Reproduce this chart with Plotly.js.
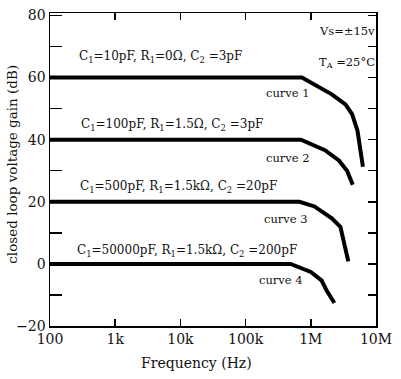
<!DOCTYPE html>
<html>
<head>
<meta charset="utf-8">
<script src="https://cdn.plot.ly/plotly-3.0.1.min.js"></script>
<style>html,body{margin:0;padding:0;background:#fff;}#chart{width:401px;height:379px;}</style>
</head>
<body>
<div id="chart"></div>
<script>
// Frequency (Hz) and closed loop gain (dB)
const freq1 = [100, 7.3e5, 2.1e6, 3.4e6, 4.3e6, 5.2e6, 6.3e6];
const gain1 = [60, 60, 54.6, 51.4, 48.2, 42.9, 31.3];
const freq2 = [100, 7.06e5, 1.65e6, 2.7e6, 3.6e6, 4.4e6];
const gain2 = [40, 40, 36.6, 33.3, 30, 25.5];
const freq3 = [100, 6.7e5, 1.14e6, 2.1e6, 2.85e6, 3.25e6, 3.76e6];
const gain3 = [20, 20, 18.5, 14.7, 11.9, 6.4, 0.8];
const freq4 = [100, 4.9e5, 1.0e6, 1.46e6, 1.75e6, 2.3e6];
const gain4 = [0, 0, -2.6, -5.3, -8.6, -12.6];

const xTickVals = [100, 1e3, 1e4, 1e5, 1e6, 1e7];
const xTickText = ['100', '1k', '10k', '100k', '1M', '10M'];
const yTickVals = [-20, 0, 20, 40, 60, 80];

const xTitle = 'Frequency (Hz)';
const yTitle = 'closed loop voltage gain (dB)';
const condLabels = [
  'C<sub>1</sub>=10pF, R<sub>1</sub>=0Ω, C<sub>2</sub> =3pF',
  'C<sub>1</sub>=100pF, R<sub>1</sub>=1.5Ω, C<sub>2</sub> =3pF',
  'C<sub>1</sub>=500pF, R<sub>1</sub>=1.5kΩ, C<sub>2</sub> =20pF',
  'C<sub>1</sub>=50000pF, R<sub>1</sub>=1.5kΩ, C<sub>2</sub> =200pF'
];
const curveLabels = ['curve 1', 'curve 2', 'curve 3', 'curve 4'];
const noteLabels = ['Vs=±15v', 'T<sub>A</sub> =25°C'];

const FONT = 'DejaVu Serif, serif';
const INK = '#111';
const lineStyle = {color: '#000', width: 4};
const series = [[freq1, gain1], [freq2, gain2], [freq3, gain3], [freq4, gain4]];
const traces = series.map(s => ({
  x: s[0], y: s[1], type: 'scatter', mode: 'lines', line: lineStyle,
  hoverinfo: 'skip', showlegend: false, cliponaxis: false
}));
// invisible trace so the right-hand y axis draws its ticks
traces.push({x: [100], y: [0], yaxis: 'y2', mode: 'markers', marker: {opacity: 0}, showlegend: false, hoverinfo: 'skip'});

// annotation positions (paper x, data y)
const condPos = [[0.34, 66.6], [0.374, 44.7], [0.393, 24.8], [0.42, 4.15]];
const curvePos = [[0.73, 55.0], [0.73, 34.1], [0.724, 14.5], [0.708, -5.2]];
const notePos = [[0.819, 75.0], [0.819, 64.7]];

const annotations = [];
condLabels.forEach((t, i) => annotations.push({
  text: t, xref: 'paper', yref: 'y', x: condPos[i][0], y: condPos[i][1],
  xanchor: 'center', yanchor: 'middle',
  showarrow: false, font: {family: FONT, size: 12, color: INK}
}));
curveLabels.forEach((t, i) => annotations.push({
  text: t, xref: 'paper', yref: 'y', x: curvePos[i][0], y: curvePos[i][1],
  xanchor: 'center', yanchor: 'middle',
  showarrow: false, font: {family: FONT, size: 11.5, color: INK}
}));
noteLabels.forEach((t, i) => annotations.push({
  text: t, xref: 'paper', yref: 'y', x: notePos[i][0], y: notePos[i][1],
  xanchor: 'left', yanchor: 'middle',
  showarrow: false, font: {family: FONT, size: 11.5, color: INK}
}));
// axis titles (placed as in the reference, off-centre)
annotations.push({
  text: xTitle, xref: 'paper', yref: 'paper', x: 0.449, y: -0.117,
  xanchor: 'center', yanchor: 'middle', showarrow: false,
  font: {family: FONT, size: 14, color: INK}
});
annotations.push({
  text: yTitle, xref: 'paper', yref: 'paper', x: -0.117, y: 0.518, textangle: -90,
  xanchor: 'center', yanchor: 'middle', showarrow: false,
  font: {family: FONT, size: 13.5, color: INK}
});

const layout = {
  width: 401, height: 379,
  margin: {l: 50, r: 25, t: 13, b: 52.6, pad: 0},
  paper_bgcolor: '#fff', plot_bgcolor: '#fff',
  showlegend: false,
  font: {family: FONT, color: INK, size: 14},
  xaxis: {
    type: 'log', range: [2, 7],
    tickvals: xTickVals, ticktext: xTickText,
    ticks: 'inside', ticklen: 7, tickwidth: 1.5, tickcolor: '#000',
    showline: true, linecolor: '#000', linewidth: 1.5, mirror: 'ticks',
    showgrid: false, zeroline: false,
    tickfont: {family: FONT, size: 14, color: INK}
  },
  yaxis: {
    range: [-20, 80.8],
    tickvals: yTickVals,
    ticks: 'inside', ticklen: 12, tickwidth: 1.5, tickcolor: '#000',
    minor: {dtick: 10, tick0: 0, ticks: 'inside', ticklen: 12, tickwidth: 1.5, tickcolor: '#000', showgrid: false},
    showline: true, linecolor: '#000', linewidth: 1.5, mirror: true,
    showgrid: false, zeroline: false,
    tickfont: {family: FONT, size: 14, color: INK}
  },
  yaxis2: {
    overlaying: 'y', side: 'right', range: [-20, 80.8], dtick: 10, tick0: 0,
    ticks: 'inside', ticklen: 8, tickwidth: 1.5, tickcolor: '#000',
    showticklabels: false, showgrid: false, zeroline: false, showline: false
  },
  annotations: annotations
};

Plotly.newPlot('chart', traces, layout, {staticPlot: true, displayModeBar: false});
</script>
</body>
</html>
